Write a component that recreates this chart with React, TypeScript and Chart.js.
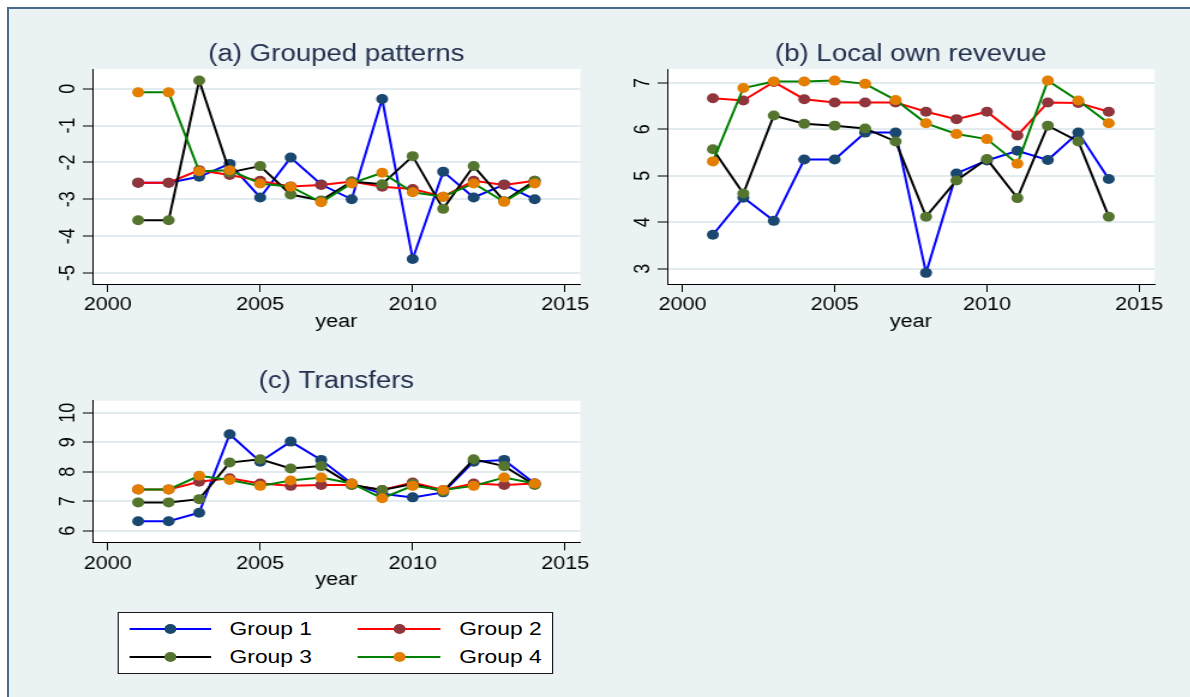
import React, { useEffect, useRef } from 'react';
import { Chart, registerables } from 'chart.js';

Chart.register(...registerables);
Chart.defaults.font.family = '"Liberation Sans", Arial, sans-serif';

// ---------------- data ----------------
const years = [2001, 2002, 2003, 2004, 2005, 2006, 2007, 2008, 2009, 2010, 2011, 2012, 2013, 2014];
const groupNames = ['Group 1', 'Group 2', 'Group 3', 'Group 4'];
const xTicks = [2000, 2005, 2010, 2015];

const groupedG1 = [-2.55, -2.55, -2.39, -2.04, -2.95, -1.87, -2.6, -3.0, -0.28, -4.62, -2.25, -2.95, -2.6, -3.0];
const groupedG2 = [-2.55, -2.55, -2.21, -2.34, -2.5, -2.65, -2.61, -2.52, -2.66, -2.72, -2.93, -2.5, -2.61, -2.5];
const groupedG3 = [-3.57, -3.57, 0.22, -2.27, -2.1, -2.87, -3.03, -2.52, -2.59, -1.83, -3.26, -2.1, -3.05, -2.5];
const groupedG4 = [-0.1, -0.1, -2.24, -2.21, -2.57, -2.66, -3.08, -2.57, -2.28, -2.81, -2.93, -2.57, -3.07, -2.57];
const groupedYTicks = [-5, -4, -3, -2, -1, 0];

const revenueG1 = [3.73, 4.53, 4.03, 5.35, 5.35, 5.93, 5.93, 2.91, 5.05, 5.33, 5.54, 5.34, 5.93, 4.93];
const revenueG2 = [6.67, 6.62, 7.02, 6.65, 6.58, 6.58, 6.58, 6.38, 6.22, 6.38, 5.87, 6.58, 6.57, 6.38];
const revenueG3 = [5.57, 4.62, 6.3, 6.12, 6.08, 6.02, 5.74, 4.12, 4.9, 5.36, 4.52, 6.08, 5.74, 4.12];
const revenueG4 = [5.31, 6.89, 7.03, 7.03, 7.05, 6.98, 6.63, 6.13, 5.9, 5.79, 5.26, 7.05, 6.62, 6.13];
const revenueYTicks = [3, 4, 5, 6, 7];

const transfersG1 = [6.32, 6.32, 6.61, 9.27, 8.34, 9.02, 8.4, 7.6, 7.25, 7.13, 7.3, 8.34, 8.4, 7.6];
const transfersG2 = [7.4, 7.4, 7.66, 7.78, 7.6, 7.52, 7.55, 7.55, 7.38, 7.63, 7.38, 7.6, 7.55, 7.6];
const transfersG3 = [6.96, 6.96, 7.07, 8.31, 8.42, 8.11, 8.19, 7.55, 7.38, 7.58, 7.33, 8.42, 8.19, 7.55];
const transfersG4 = [7.4, 7.4, 7.86, 7.72, 7.52, 7.7, 7.8, 7.6, 7.1, 7.52, 7.38, 7.52, 7.8, 7.6];
const transfersYTicks = [6, 7, 8, 9, 10];

// ---------------- styles ----------------
const lineColors = ['#0000FF', '#FF0000', '#000000', '#008000'];
const markerColors = ['#1A476F', '#90353B', '#55752F', '#E37E00'];
const titleColor = '#23304E';
const S = 1.2; // horizontal stretch of the whole figure
const FONT = '"Liberation Sans", Arial, sans-serif';
const TITLE_SIZE = 23;

type PanelSpec = {
  title: string;
  series: number[][];
  yTicks: number[];
  yMin: number;
  yMax: number;
  left: number; right: number; top: number; bottom: number;
  titleMid: number; canvasTop: number; yPad: number;
};

const panels: PanelSpec[] = [
  { title: '(a) Grouped patterns', series: [groupedG1, groupedG2, groupedG3, groupedG4], yTicks: groupedYTicks,
    yMin: -5.298, yMax: 0.534, left: 91.8, right: 579.8, top: 69, bottom: 284, titleMid: 54.5, canvasTop: 20, yPad: 4 },
  { title: '(b) Local own revevue', series: [revenueG1, revenueG2, revenueG3, revenueG4], yTicks: revenueYTicks,
    yMin: 2.67, yMax: 7.30, left: 667.3, right: 1154.5, top: 69, bottom: 284, titleMid: 54.5, canvasTop: 20, yPad: 7 },
  { title: '(c) Transfers', series: [transfersG1, transfersG2, transfersG3, transfersG4], yTicks: transfersYTicks,
    yMin: 5.607, yMax: 10.407, left: 91.8, right: 579.8, top: 400.7, bottom: 542.3, titleMid: 382, canvasTop: 350, yPad: 2 },
];

const plotBg = {
  id: 'plotBg',
  beforeDraw(chart: any) {
    const { ctx, chartArea: a } = chart;
    ctx.save();
    ctx.fillStyle = '#FFFFFF';
    ctx.fillRect(a.left, a.top, a.right - a.left, a.bottom - a.top);
    ctx.restore();
  },
};

function Panel({ spec }: { spec: PanelSpec }) {
  const ref = useRef<HTMLCanvasElement>(null);
  const Wy = 40;
  const Hx = 50;
  const plotL = spec.left / S;
  const plotR = spec.right / S;
  const canvasLeft = plotL - Wy;
  const canvasW = Math.ceil(plotR + 22 - canvasLeft);
  const padRight = canvasW - Wy - (plotR - plotL);
  const canvasH = Math.ceil(spec.bottom + Hx + 4 - spec.canvasTop);
  const padBottom = spec.canvasTop + canvasH - Hx - spec.bottom;
  const titleLH = TITLE_SIZE * 1.2;
  const tPadTop = spec.titleMid - spec.canvasTop - titleLH / 2;
  const tPadBottom = spec.top - spec.canvasTop - tPadTop - titleLH;

  useEffect(() => {
    const chart = new Chart(ref.current as HTMLCanvasElement, {
      type: 'line',
      data: {
        datasets: groupNames.map((name, i) => ({
          label: name,
          data: years.map((yr, j) => ({ x: yr, y: spec.series[i][j] })),
          borderColor: lineColors[i],
          backgroundColor: markerColors[i],
          pointBackgroundColor: markerColors[i],
          pointBorderColor: markerColors[i],
          pointBorderWidth: 0,
          pointRadius: 5,
          borderWidth: 2,
          tension: 0,
          order: 4 - i,
        })),
      },
      options: {
        animation: false,
        responsive: false,
        events: [],
        layout: { padding: { left: 0, top: 0, right: padRight, bottom: padBottom } },
        plugins: {
          legend: { display: false },
          tooltip: { enabled: false },
          title: {
            display: true,
            text: spec.title,
            fullSize: false,
            color: titleColor,
            font: { family: FONT, size: TITLE_SIZE, weight: 'normal', lineHeight: 1.2 },
            padding: { top: tPadTop, bottom: tPadBottom },
          },
        },
        scales: {
          x: {
            type: 'linear',
            min: 1999.5,
            max: 2015.5,
            bounds: 'data',
            afterBuildTicks: (s: any) => { s.ticks = xTicks.map((v) => ({ value: v })); },
            afterFit: (s: any) => { s.height = Hx; },
            ticks: {
              color: '#000',
              font: { family: FONT, size: 18, lineHeight: 1.2 },
              padding: 2.5,
              autoSkip: false,
              minRotation: 0,
              maxRotation: 0,
              callback: (v: any) => String(v),
            },
            grid: { display: true, drawOnChartArea: false, drawTicks: true, tickLength: 8, tickColor: '#000', tickWidth: 1 },
            border: { display: true, color: '#000', width: 1 },
            title: {
              display: true,
              text: 'year',
              color: '#000',
              font: { family: FONT, size: 18, lineHeight: 1.2 },
              padding: { top: 0, bottom: 1 },
            },
          },
          y: {
            type: 'linear',
            min: spec.yMin,
            max: spec.yMax,
            bounds: 'data',
            afterBuildTicks: (s: any) => { s.ticks = spec.yTicks.map((v) => ({ value: v })); },
            afterFit: (s: any) => { s.width = Wy; },
            ticks: {
              color: '#000',
              font: { family: FONT, size: 18, lineHeight: 1.2 },
              padding: spec.yPad,
              autoSkip: false,
              minRotation: 90,
              maxRotation: 90,
              crossAlign: 'center',
              callback: (v: any) => String(v),
            },
            grid: { display: true, drawOnChartArea: true, color: '#E2EBEF', lineWidth: 2, drawTicks: true, tickLength: 8, tickColor: '#000', tickWidth: 1 },
            border: { display: true, color: '#000', width: 1 },
          },
        },
      } as any,
      plugins: [plotBg],
    } as any);
    return () => chart.destroy();
  }, [spec]);

  return (
    <canvas
      ref={ref}
      width={canvasW}
      height={canvasH}
      style={{ position: 'absolute', left: canvasLeft, top: spec.canvasTop, width: canvasW, height: canvasH }}
    />
  );
}

function Legend() {
  const rows = [629.3, 656.7];
  const cols = [
    { l1: 129, l2: 211.6, m: 170.3, t: 229.6 },
    { l1: 357, l2: 440, m: 399, t: 459.2 },
  ];
  return (
    <>
      <div style={{
        position: 'absolute', left: 117.9 / S, top: 611.7, width: (553.4 - 117.9) / S, height: 62.3,
        boxSizing: 'border-box', border: '1.5px solid #1A1A1A', background: '#FFFFFF',
      }} />
      {groupNames.map((name, i) => {
        const c = cols[i % 2];
        const y = rows[Math.floor(i / 2)];
        return (
          <React.Fragment key={name}>
            <div style={{ position: 'absolute', left: c.l1 / S, top: y - 1, width: (c.l2 - c.l1) / S, height: 2, background: lineColors[i] }} />
            <div style={{ position: 'absolute', left: c.m / S - 5, top: y - 5, width: 10, height: 10, borderRadius: '50%', background: markerColors[i] }} />
            <div style={{
              position: 'absolute', left: c.t / S, top: y - 15, height: 30, lineHeight: '30px',
              fontFamily: FONT, fontSize: 19, color: '#000', whiteSpace: 'nowrap',
            }}>{name}</div>
          </React.Fragment>
        );
      })}
    </>
  );
}

export default function App() {
  return (
    <div style={{ position: 'fixed', left: 0, top: 0, width: 1190, height: 697, overflow: 'hidden', background: '#FFFFFF' }}>
      <div style={{
        position: 'absolute', left: 7, top: 7, width: 1200, height: 700,
        background: '#EAF2F3', borderLeft: '2px solid #4B6B8B', borderTop: '2px solid #4B6B8B',
      }} />
      <div style={{
        position: 'absolute', left: 0, top: 0, width: 1190 / S, height: 697,
        transform: `scaleX(${S})`, transformOrigin: '0 0',
      }}>
        {panels.map((p) => <Panel key={p.title} spec={p} />)}
        <Legend />
      </div>
    </div>
  );
}
